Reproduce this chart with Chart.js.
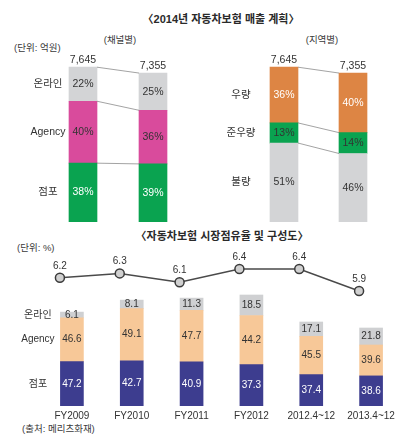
<!DOCTYPE html>
<html>
<head>
<meta charset="utf-8">
<script src="https://cdn.jsdelivr.net/npm/chart.js@4.4.1/dist/chart.umd.min.js"></script>
<style>
html, body { margin: 0; padding: 0; background: #fff; overflow: hidden; }
#wrap { position: relative; width: 410px; height: 443px; font-family: "Liberation Sans", "Noto Sans CJK KR", sans-serif; color: #3a3a3a; }
#wrap canvas { position: absolute; }
.t { position: absolute; white-space: nowrap; line-height: 1; }
.title { font-size: 11px; font-weight: bold; color: #2a2a2a; text-align: center; }
.small { font-size: 9.5px; }
</style>
</head>
<body>
<div id="wrap">
  <div class="t title" style="left:111px; width:220px; top:14px;">〈2014년 자동차보험 매출 계획〉</div>
  <div class="t small" style="left:14px; top:43px;">(단위: 억원)</div>
  <div class="t small" style="left:80px; width:80px; top:35px; text-align:center;">(채널별)</div>
  <div class="t small" style="left:282px; width:80px; top:35px; text-align:center;">(지역별)</div>

  <div class="t title" style="left:112px; width:220px; top:231px;">〈자동차보험 시장점유율 및 구성도〉</div>
  <div class="t small" style="left:17px; top:243px;">(단위: %)</div>
  <div class="t small" style="left:22px; top:424px;">(출처: 메리츠화재)</div>

  <canvas id="channelChart" width="205" height="230" style="left:0; top:0;"></canvas>
  <canvas id="regionChart" width="205" height="230" style="left:205px; top:0;"></canvas>
  <canvas id="shareLine" width="410" height="70" style="left:0; top:240px;"></canvas>
  <canvas id="mixChart" width="410" height="140" style="left:0; top:285px;"></canvas>
</div>

<script>
// 2014 PLAN (억원)
const planTotals = [7645, 7355];

// by channel (%)
const channelNames = ['점포', 'Agency', '온라인'];
const storePct = [38, 39];
const agencyPct = [40, 36];
const onlinePct = [22, 25];

// by region (%)
const regionNames = ['불량', '준우량', '우량'];
const poorPct = [51, 46];
const midPct = [13, 14];
const goodPct = [36, 40];

// MARKET SHARE AND MIX
const periods = ['FY2009', 'FY2010', 'FY2011', 'FY2012', '2012.4~12', '2013.4~12'];
const marketShare = [6.2, 6.3, 6.1, 6.4, 6.4, 5.9];
const storeShare = [47.2, 42.7, 40.9, 37.3, 37.4, 38.6];
const agencyShare = [46.6, 49.1, 47.7, 44.2, 45.5, 39.6];
const onlineShare = [6.1, 8.1, 11.3, 18.5, 17.1, 21.8];
// relative bar sizes as drawn (no unit given in the source)
const barSize = [94, 106, 108, 111, 84, 78];

const FONT = '"Liberation Sans", "Noto Sans CJK KR", sans-serif';

// labels inside segments, names on the left, totals on top, connector lines
const stackLabels = {
  id: 'stackLabels',
  afterDatasetsDraw(chart, args, opts) {
    const ctx = chart.ctx;
    const sets = chart.data.datasets;
    ctx.save();
    ctx.textAlign = 'center';
    ctx.textBaseline = 'middle';

    if (opts.connect) {
      ctx.strokeStyle = '#8c8c8c';
      ctx.lineWidth = 0.8;
      sets.forEach((ds, i) => {
        const m = chart.getDatasetMeta(i).data;
        for (let j = 0; j < m.length - 1; j++) {
          ctx.beginPath();
          ctx.moveTo(m[j].x + m[j].width / 2, m[j].y);
          ctx.lineTo(m[j + 1].x - m[j + 1].width / 2, m[j + 1].y);
          ctx.stroke();
        }
      });
    }

    ctx.font = opts.size + 'px ' + FONT;
    sets.forEach((ds, i) => {
      const m = chart.getDatasetMeta(i).data;
      m.forEach((el, j) => {
        const mid = (el.y + el.base) / 2;
        ctx.fillStyle = ds.textColor;
        ctx.fillText(ds.pct[j] + opts.suffix, el.x, mid);
        if (j === 0) {
          ctx.fillStyle = '#333';
          ctx.fillText(ds.label, el.x - opts.nameOffset, mid);
        }
      });
    });

    if (opts.totals) {
      const top = chart.getDatasetMeta(sets.length - 1).data;
      ctx.fillStyle = '#333';
      ctx.textBaseline = 'bottom';
      top.forEach((el, j) => {
        ctx.fillText(opts.totals[j].toLocaleString('en-US'), el.x, el.y - 2);
      });
    }
    ctx.restore();
  }
};

function planChart(id, names, pcts, colors, textColors, pad, nameOffset) {
  return new Chart(document.getElementById(id), {
    type: 'bar',
    data: {
      labels: planTotals.map(String),
      datasets: names.map((n, i) => ({
        label: n,
        data: planTotals.map((t, j) => t * pcts[i][j] / 100),
        pct: pcts[i],
        backgroundColor: colors[i],
        textColor: textColors[i],
        barThickness: 28,
        borderWidth: 0
      }))
    },
    options: {
      responsive: false,
      animation: false,
      layout: { padding: pad },
      scales: {
        x: { stacked: true, display: false },
        y: { stacked: true, display: false, min: 0, max: 8000 }
      },
      plugins: {
        legend: { display: false },
        tooltip: { enabled: false },
        stackLabels: { connect: true, size: 10.5, suffix: '%', totals: planTotals, nameOffset: nameOffset }
      }
    },
    plugins: [stackLabels]
  });
}

// CHANNEL (bottom to top: 점포, Agency, 온라인)
planChart('channelChart', channelNames, [storePct, agencyPct, onlinePct],
  ['#0aa350', '#d94b9c', '#d3d4d6'], ['#fff', '#333', '#333'],
  { left: 48, right: 17, top: 60, bottom: 8 }, 35);

// REGION (bottom to top: 불량, 준우량, 우량)
planChart('regionChart', regionNames, [poorPct, midPct, goodPct],
  ['#d3d4d6', '#0aa350', '#dd8544'], ['#333', '#333', '#fff'],
  { left: 44.5, right: 22.5, top: 60, bottom: 8 }, 43);

// MARKET SHARE (LINE)
const pointLabels = {
  id: 'pointLabels',
  afterDatasetsDraw(chart) {
    const ctx = chart.ctx;
    ctx.save();
    ctx.font = '10px ' + FONT;
    ctx.fillStyle = '#333';
    ctx.textAlign = 'center';
    ctx.textBaseline = 'middle';
    chart.getDatasetMeta(0).data.forEach((pt, i) => {
      ctx.fillText(marketShare[i].toFixed(1), pt.x, pt.y - 12);
    });
    ctx.restore();
  }
};

new Chart(document.getElementById('shareLine'), {
  type: 'line',
  data: {
    labels: periods,
    datasets: [{
      data: marketShare,
      borderColor: '#4a4a4a',
      borderWidth: 1.5,
      pointRadius: 4.5,
      pointBackgroundColor: '#d0d0d0',
      pointBorderColor: '#3a3a3a',
      pointBorderWidth: 1.5,
      tension: 0,
      clip: false
    }]
  },
  options: {
    responsive: false,
    animation: false,
    layout: { padding: { left: 30, right: 21, top: 15.8, bottom: 10.2 } },
    scales: {
      x: { display: false, offset: true },
      y: { display: false, min: 5.7, max: 6.7 }
    },
    plugins: { legend: { display: false }, tooltip: { enabled: false } }
  },
  plugins: [pointLabels]
});

// SHARE MIX (STACKED BARS)
const mixSets = [
  { label: '점포', pct: storeShare, color: '#3d3d8f', text: '#fff' },
  { label: 'Agency', pct: agencyShare, color: '#f7c898', text: '#333' },
  { label: '온라인', pct: onlineShare, color: '#cfd0d2', text: '#333' }
];

new Chart(document.getElementById('mixChart'), {
  type: 'bar',
  data: {
    labels: periods,
    datasets: mixSets.map(s => ({
      label: s.label,
      data: barSize.map((b, j) => b * s.pct[j] / 100),
      pct: s.pct,
      backgroundColor: s.color,
      textColor: s.text,
      barThickness: 23,
      borderWidth: 0
    }))
  },
  options: {
    responsive: false,
    animation: false,
    layout: { padding: { left: 42, right: 9, top: 1, bottom: 0 } },
    scales: {
      x: {
        stacked: true,
        grid: { display: false, drawTicks: false },
        border: { display: false },
        ticks: { color: '#333', font: { size: 10, family: FONT }, padding: 4, maxRotation: 0, autoSkip: false },
        afterFit(scale) { scale.height = 19; }
      },
      y: { stacked: true, display: false, min: 0, max: 120 }
    },
    plugins: {
      legend: { display: false },
      tooltip: { enabled: false },
      stackLabels: { connect: false, size: 10, suffix: '', nameOffset: 34 }
    }
  },
  plugins: [stackLabels]
});
</script>
</body>
</html>
